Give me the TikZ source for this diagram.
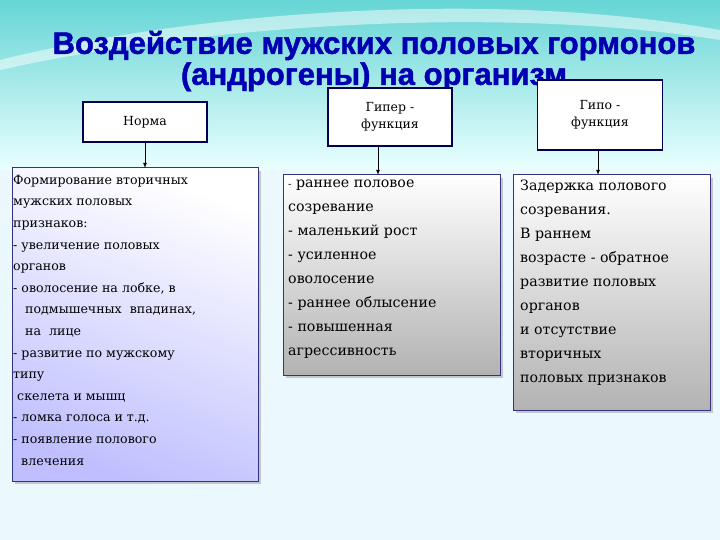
\documentclass[tikz,border=0pt]{standalone}
\usepackage{fontspec}
\setmainfont{DejaVu Serif}
\newfontfamily\titlefont[FakeBold=1.5]{Liberation Sans Bold}
\usetikzlibrary{shadows}
\begin{document}
\begin{tikzpicture}[x=1pt,y=-1pt,
  small/.style={draw=black!70!blue,fill=white,line width=1.2pt,minimum width=124pt,align=center,font=\fontsize{12.5}{17}\selectfont},
  big/.style={draw=black!50!blue!60!gray,line width=1pt,drop shadow={shadow xshift=3pt,shadow yshift=-3pt,opacity=.4}},
  txt/.style={anchor=north west,align=left,inner sep=0pt},
  arr/.style={-latex,line width=0.8pt}]
\useasboundingbox (0,0) rectangle (720,540);
\shade[top color=cyan!45!teal!60,bottom color=cyan!8] (0,0) rectangle (720,170);
\fill[cyan!8] (0,170) rectangle (720,540);
\fill[white,opacity=.5] (0,60) .. controls (200,10) and (500,-10) .. (720,30) -- (720,40) .. controls (500,5) and (200,25) .. (0,70) -- cycle;
% title
\node[font=\titlefont\fontsize{31}{31}\selectfont,text=blue!70!black,align=center] (title) at (374,61)
 {Воздействие мужских половых гормонов\\(андрогены) на организм};
% top boxes
\node[small,minimum height=40pt] (n) at (145,122) {Норма};
\node[small,minimum height=58pt] (g) at (390,117) {Гипер -\\функция};
\node[small,minimum height=70pt,minimum width=125pt] (h) at (600,115) {Гипо -\\функция};
% big boxes
\shade[big,top color=white,bottom color=blue!25,shading angle=-20] (12,168) rectangle (258,481);
\shade[big,top color=white,bottom color=black!30] (283,175) rectangle (500,375);
\shade[big,top color=white,bottom color=black!30] (513,175) rectangle (710,410);
\coordinate (bl) at (145,168);
\coordinate (bm) at (378,175);
\coordinate (br) at (598,175);
\draw[arr] (n.south) -- (bl);
\draw[arr] (g.south -| bm) -- (bm);
\draw[arr] (h.south -| br) -- (br);
\node[txt,font=\fontsize{12.6}{21.6}\selectfont] (t1) at (13,175) {Формирование вторичных\\мужских половых\\признаков:\\- увеличение половых\\органов\\- оволосение на лобке, в\\\ \ \ подмышечных\ \ впадинах,\\\ \ \ на\ \ лице\\- развитие по мужскому\\типу\\\ скелета и мышц\\- ломка голоса и т.д.\\- появление полового\\\ \ влечения};
\node[txt,font=\fontsize{14.2}{24}\selectfont] (t2) at (288,180) {{\fontsize{10}{10}\selectfont-} раннее половое\\созревание\\- маленький рост\\- усиленное\\оволосение\\- раннее облысение\\- повышенная\\агрессивность};
\node[txt,font=\fontsize{14.2}{24}\selectfont] (t3) at (520,180) {Задержка полового\\созревания.\\В раннем\\возрасте - обратное\\развитие половых\\органов\\и отсутствие\\вторичных\\половых признаков};
\end{tikzpicture}
\end{document}
